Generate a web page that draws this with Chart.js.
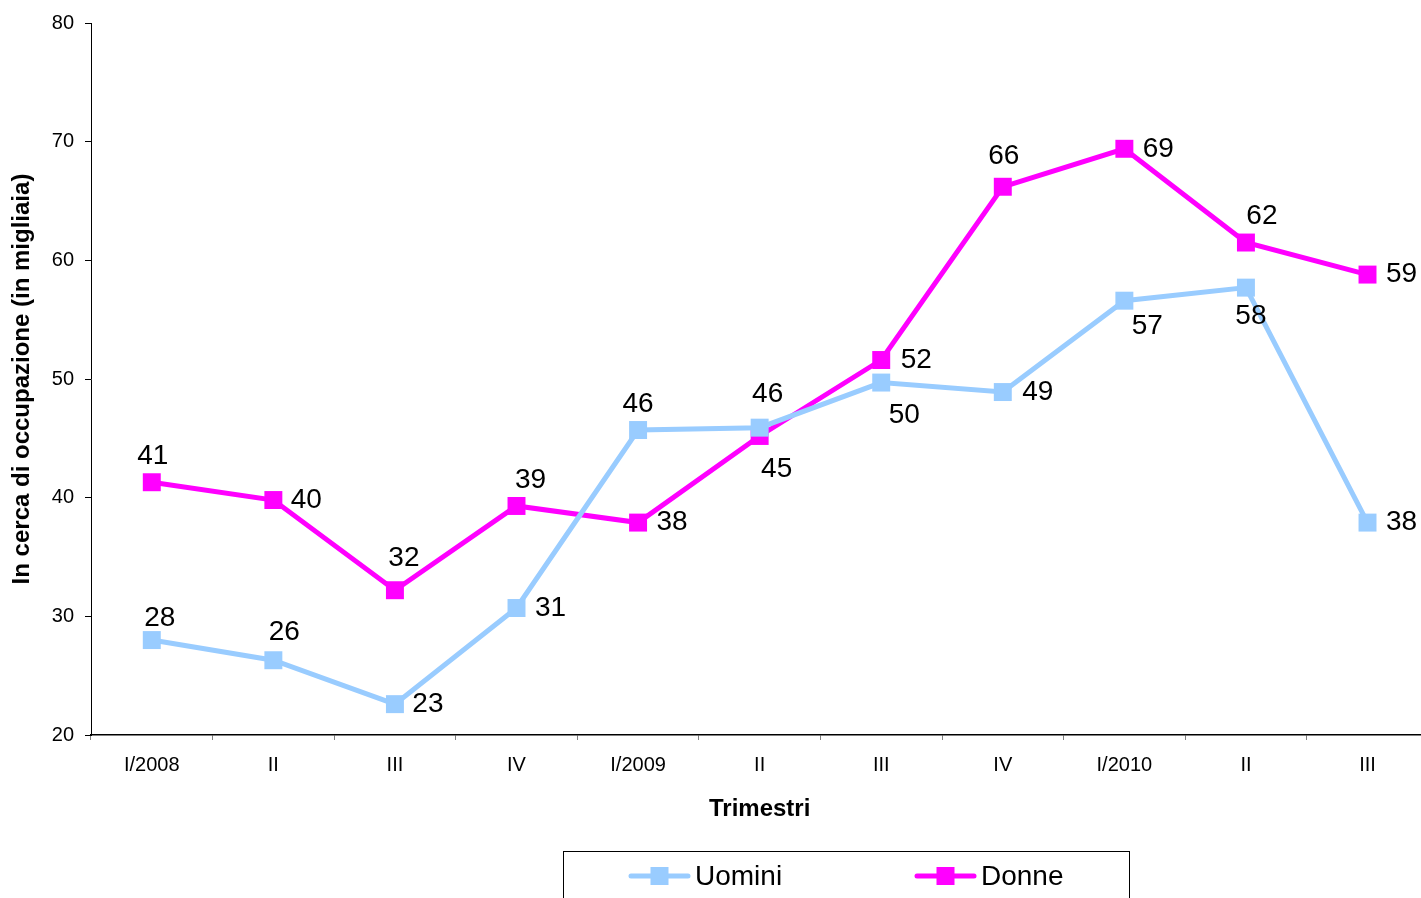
<!DOCTYPE html>
<html>
<head>
<meta charset="utf-8">
<script src="https://cdn.jsdelivr.net/npm/chart.js@4.4.1/dist/chart.umd.min.js"></script>
<style>
  html, body { margin: 0; padding: 0; background: #fff; overflow: hidden; }
  #c { display: block; }
</style>
</head>
<body>
<canvas id="c" width="1441" height="898"></canvas>
<script>
// Quarterly series, job seekers (thousands)
const quarters = ['I/2008', 'II', 'III', 'IV', 'I/2009', 'II', 'III', 'IV', 'I/2010', 'II', 'III'];
const uomini = [28.0, 26.3, 22.6, 30.7, 45.7, 45.9, 49.7, 48.9, 56.6, 57.7, 37.9];
const donne  = [41.3, 39.8, 32.2, 39.3, 37.9, 45.2, 51.6, 66.2, 69.4, 61.5, 58.8];
const yTicks = [20, 30, 40, 50, 60, 70, 80];

const FONT = "'Liberation Sans', Arial, sans-serif";

// value labels next to each marker; offsets are per point [dx, dy]
const valueLabels = {
  id: 'valueLabels',
  afterDatasetsDraw(chart, args, opts) {
    const ctx = chart.ctx;
    ctx.save();
    ctx.font = '28px ' + FONT;
    ctx.fillStyle = '#000';
    ctx.textAlign = 'center';
    ctx.textBaseline = 'middle';
    chart.data.datasets.forEach((ds, di) => {
      const meta = chart.getDatasetMeta(di);
      const offs = opts.offsets[di];
      meta.data.forEach((pt, i) => {
        const [dx, dy] = offs[i];
        ctx.fillText(String(Math.round(ds.data[i])), pt.x + dx, pt.y + dy);
      });
    });
    ctx.restore();
  }
};

// boxed legend below the axis title
const boxLegend = {
  id: 'boxLegend',
  afterDraw(chart, args, opts) {
    const ctx = chart.ctx;
    ctx.save();
    ctx.strokeStyle = '#000';
    ctx.lineWidth = 1;
    ctx.strokeRect(opts.box[0] + 0.5, opts.box[1] + 0.5, opts.box[2], opts.box[3]);
    ctx.font = '28px ' + FONT;
    ctx.textBaseline = 'middle';
    ctx.textAlign = 'left';
    chart.data.datasets.forEach((ds, i) => {
      const x0 = opts.items[i];
      const y = opts.y;
      ctx.strokeStyle = ds.borderColor;
      ctx.lineWidth = 5;
      ctx.lineCap = 'round';
      ctx.beginPath();
      ctx.moveTo(x0, y);
      ctx.lineTo(x0 + 57, y);
      ctx.stroke();
      ctx.fillStyle = ds.pointBackgroundColor;
      ctx.fillRect(x0 + 28.5 - 9, y - 9, 18, 18);
      ctx.fillStyle = '#000';
      ctx.fillText(ds.label, x0 + 64, y + 1);
    });
    ctx.restore();
  }
};

const mkSet = (label, data, color) => ({
  label, data,
  borderColor: color,
  backgroundColor: color,
  pointBackgroundColor: color,
  pointBorderColor: color,
  pointBorderWidth: 0,
  borderWidth: 5,
  pointStyle: 'rect',
  pointRadius: 12.7,
  pointHoverRadius: 12.7,
  tension: 0,
  clip: false
});

new Chart(document.getElementById('c'), {
  type: 'line',
  data: {
    labels: quarters,
    datasets: [
      mkSet('Uomini', uomini, '#99CCFF'),
      mkSet('Donne', donne, '#FF00FF')
    ]
  },
  plugins: [valueLabels, boxLegend],
  options: {
    responsive: false,
    animation: false,
    events: [],
    layout: { padding: { top: 22, right: 0, left: 0, bottom: 0 } },
    plugins: {
      legend: { display: false },
      tooltip: { enabled: false },
      valueLabels: {
        offsets: [
          [[8, -22], [11, -28], [33, 0], [34, 0], [0, -26], [8, -33], [23, 33], [35, 0], [23, 26], [5, 29], [34, 0]],
          [[1, -26], [33, 0], [9, -32], [14, -26], [34, 0], [17, 33], [35, 0], [1, -30], [34, 0], [16, -26], [34, 0]]
        ]
      },
      boxLegend: { box: [563, 851, 566, 60], y: 876, items: [631, 917] }
    },
    scales: {
      x: {
        offset: true,
        grid: { display: true, offset: true, drawOnChartArea: false, drawTicks: true, tickLength: 5, color: '#808080' },
        border: { display: true, color: '#000', width: 1.5 },
        ticks: { color: '#000', font: { family: FONT, size: 20 }, padding: 13, maxRotation: 0, autoSkip: false },
        title: { display: true, text: 'Trimestri', color: '#000', font: { family: FONT, size: 24, weight: 'bold' }, padding: { top: 0, bottom: 74 } },
        afterFit(scale) { scale.height = 163; }
      },
      y: {
        min: 20, max: 80,
        afterBuildTicks(scale) { scale.ticks = yTicks.map(v => ({ value: v })); },
        grid: { display: true, drawOnChartArea: false, drawTicks: true, tickLength: 6, color: '#000' },
        border: { display: true, color: '#000', width: 1 },
        ticks: { color: '#000', font: { family: FONT, size: 20 }, padding: 11 },
        title: { display: true, text: 'In cerca di occupazione (in migliaia)', color: '#000', font: { family: FONT, size: 24, weight: 'bold' }, padding: { top: 8, bottom: 0 } },
        afterFit(scale) { scale.width = 91; }
      }
    }
  }
});
</script>
</body>
</html>
